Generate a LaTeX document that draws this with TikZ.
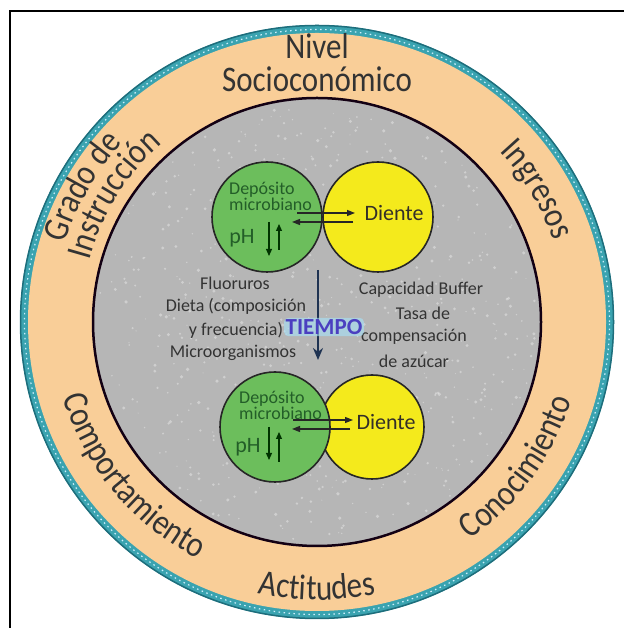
\documentclass[tikz,border=0pt]{standalone}
\usepackage{fontspec}
\setmainfont{Carlito}
\newfontfamily\ofam[FakeStretch=0.86]{Carlito}
\usetikzlibrary{arrows.meta,decorations.text}
\definecolor{teal1}{HTML}{3AA3B0}
\definecolor{teal2}{HTML}{1E6E7C}
\definecolor{orng}{HTML}{F9CE98}
\definecolor{grayf}{HTML}{B6B6B6}
\definecolor{greenf}{HTML}{6CBE5C}
\definecolor{yellowf}{HTML}{F4EA1C}
\definecolor{dgreen}{HTML}{235E28}
\definecolor{txt}{HTML}{333333}
\definecolor{navy}{HTML}{1F3352}
\definecolor{tiempoc}{HTML}{4B3FC0}
\newcommand\ofont{\ofam\fontsize{36}{36}\selectfont}
\begin{document}
\begin{tikzpicture}[x=1pt,y=1pt,
  outerlbl/.style={font=\ofont, text=txt, inner sep=0pt},
  innerlbl/.style={font=\fontsize{18}{20}\selectfont, text=txt, inner sep=0pt},
  ball/.style={circle, draw=black!85, line width=1.6pt, minimum size=110pt, inner sep=0pt},
  deptxt/.style={font=\fontsize{18}{16}\selectfont, text=dgreen, align=left, anchor=west, inner sep=0pt},
  phtxt/.style={font=\fontsize{22}{22}\selectfont, text=dgreen, inner sep=0pt},
  dtxt/.style={font=\fontsize{22}{22}\selectfont, text=black!85!olive, inner sep=0pt},
  harrow/.style={-{Triangle[length=8pt,width=6pt]}, line width=1.3pt, draw=black!85},
  varrow/.style={-{Triangle[length=7pt,width=6pt]}, line width=1.2pt, draw=black!80!green},
  ringtext/.style={decorate, decoration={text along path, text align=center, text color=txt, text={|\ofont|#1}}}
]
\useasboundingbox (0,0) rectangle (624,628);
\coordinate (C) at (317,306);

% rings
\fill[teal1] (C) circle[radius=297];
\draw[teal2, line width=1.5pt] (C) circle[radius=296.5];
\draw[cyan!20!white, line width=1.2pt, dash pattern=on 1.5pt off 3.5pt] (C) circle[radius=292.5];
\fill[orng] (C) circle[radius=289];
\node[circle, fill=grayf, draw=black!85!violet, line width=2.5pt, minimum size=448pt, inner sep=0pt] (plate) at (C) {};
% speckled texture of the plate
\pgfmathsetseed{11}
\foreach \i in {1,...,650}{
  \pgfmathsetmacro\ang{rnd*360}
  \pgfmathsetmacro\rad{219*sqrt(rnd)}
  \pgfmathsetmacro\dot{0.5+1.3*rnd}
  \fill[white, opacity=0.35] ([shift={(\ang:\rad)}]C) circle[radius=\dot];
}

% frame
\draw[line width=2pt] (9.5,0) -- (9.5,616.5) -- (624,616.5);

% outer labels
\node[outerlbl] (nivel) at (317,582) {Nivel};
\node[outerlbl] (socio) at (317,549) {Socioconómico};
\path[ringtext={Actitudes}] ([shift={(230:278)}]C) arc[start angle=230, end angle=310, radius=278];
\path[ringtext={Comportamiento}] ([shift={(175:265)}]C) arc[start angle=175, end angle=265, radius=265];
\path[ringtext={Conocimiento}] ([shift={(279:266)}]C) arc[start angle=279, end angle=369, radius=266];
\path[ringtext={Ingresos}] ([shift={(76:250)}]C) arc[start angle=76, end angle=-14, radius=250];
\path[ringtext={Grado de}] ([shift={(195:264)}]C) arc[start angle=195, end angle=105, radius=264];
\path[ringtext={Instrucción}] ([shift={(193:236)}]C) arc[start angle=193, end angle=103, radius=236];

% circles
\node[ball, fill=yellowf] (y1) at (378,411) {};
\node[ball, fill=greenf] (g1) at (267,411) {};
\node[ball, fill=yellowf, minimum size=104pt] (y2) at (372,201) {};
\node[ball, fill=greenf] (g2) at (275,201) {};

% circle texts
\node[deptxt] (dep1) at (229,431.5) {Depósito\\microbiano};
\node[deptxt, font=\fontsize{18}{14}\selectfont] (dep2) at (239,222.5) {Depósito\\microbiano};
\node[phtxt] (ph1) at (242,390) {pH};
\node[phtxt] (ph2) at (248,181) {pH};
\node[dtxt] (d1) at (394,415) {Diente};
\node[dtxt] (d2) at (386,206) {Diente};

% arrow end points
\coordinate (r1s) at (297,415); \coordinate (r1e) at (355,415);
\coordinate (l1s) at (353,406); \coordinate (l1e) at (292,406);
\coordinate (dn1s) at (269,406); \coordinate (dn1e) at (269,372);
\coordinate (up1s) at (279,378); \coordinate (up1e) at (279,404);
\coordinate (r2s) at (293,208); \coordinate (r2e) at (353,208);
\coordinate (l2s) at (350,199); \coordinate (l2e) at (292,199);
\coordinate (dn2s) at (269,201); \coordinate (dn2e) at (269,168);
\coordinate (up2s) at (279,166); \coordinate (up2e) at (279,196);
\coordinate (ts) at (318,358); \coordinate (te) at (318,268);

\draw[harrow] (r1s) -- (r1e);
\draw[harrow] (l1s) -- (l1e);
\draw[varrow] (dn1s) -- (dn1e);
\draw[varrow] (up1s) -- (up1e);
\draw[harrow] (r2s) -- (r2e);
\draw[harrow] (l2s) -- (l2e);
\draw[varrow] (dn2s) -- (dn2e);
\draw[varrow] (up2s) -- (up2e);
\draw[-{Stealth[length=12pt,width=10pt]}, line width=2.6pt, navy] (ts) -- (te);

% inner texts
\node[innerlbl] (fluor) at (235,345) {Fluoruros};
\node[innerlbl] (dieta) at (236,322) {Dieta (composición};
\node[innerlbl] (frec) at (236,298) {y frecuencia)};
\node[innerlbl] (micro) at (233,275) {Microorganismos};
\node[innerlbl] (buffer) at (421,338) {Capacidad Buffer};
\node[innerlbl] (tasa) at (423,315) {Tasa de};
\node[innerlbl] (comp) at (414,291) {compensación};
\node[innerlbl] (azucar) at (414,267) {de azúcar};
\node[font=\bfseries\fontsize{23}{23}\selectfont, text=tiempoc, fill=cyan!35!white, fill opacity=0.6, text opacity=1, rounded corners=4pt, inner sep=1.5pt] (tiempo) at (324,301) {TIEMPO};
\end{tikzpicture}
\end{document}
